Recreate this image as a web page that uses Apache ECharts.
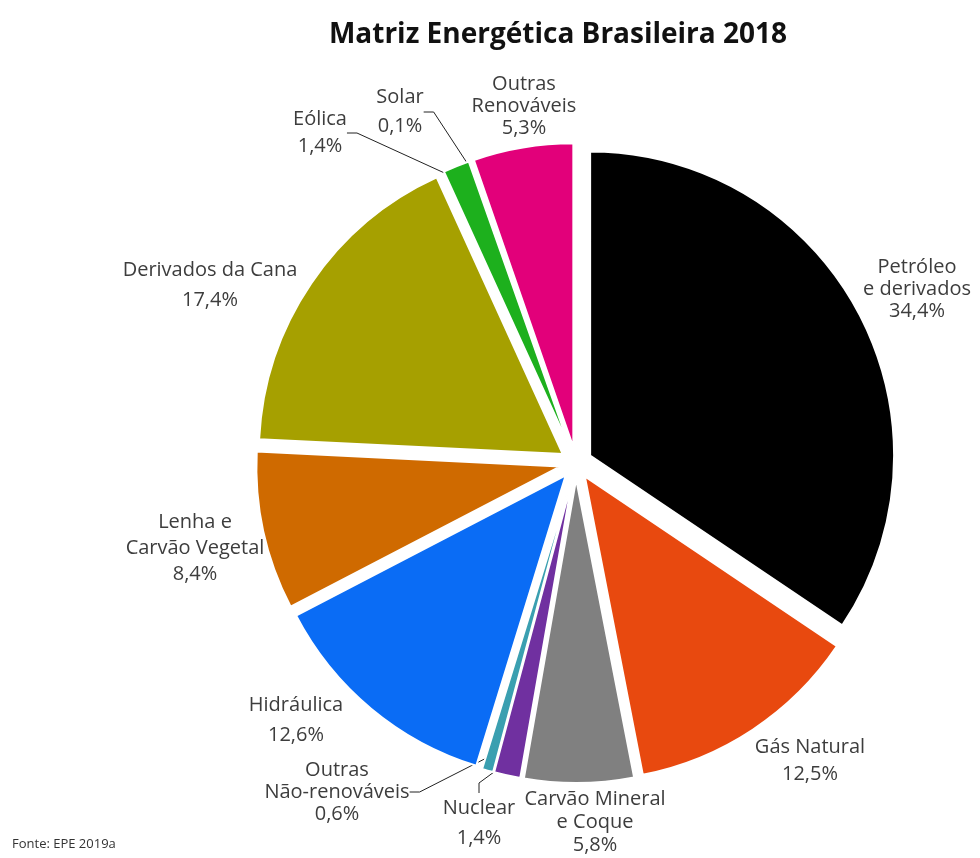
<!DOCTYPE html>
<html>
<head>
<meta charset="utf-8">
<script src="https://cdn.jsdelivr.net/npm/echarts@6/dist/echarts.min.js"></script>
<style>
  html, body { margin: 0; padding: 0; background: #ffffff; }
  #chart { width: 980px; height: 858px; }
</style>
</head>
<body>
<div id="chart"></div>
<script>
// Energy sources, clockwise from 12 o'clock
const fontes = [
  'Petróleo\ne derivados', 'Gás Natural', 'Carvão Mineral\ne Coque', 'Nuclear',
  'Outras\nNão-renováveis', 'Hidráulica', 'Lenha e\nCarvão Vegetal',
  'Derivados da Cana', 'Eólica', 'Solar', 'Outras\nRenováveis'
];
// Share of the 2018 energy supply (%)
const participacao = [34.4, 12.5, 5.8, 1.4, 0.6, 12.6, 8.4, 17.4, 1.4, 0.1, 5.3];
const cores = [
  '#000000', '#E8490F', '#808080', '#7030A0', '#3A9FB0', '#0A6CF5',
  '#CF6A00', '#A6A000', '#1DB01D', '#F5F56A', '#E2007A'
];
// Which labels are tied to their slice with a leader line
const comLinha = [false, false, false, true, true, false, false, false, true, true, false];

// Label placement: centre x, centre y, line height
const rotulos = [
  [917, 289, 22], [810, 761, 27], [595, 822, 23], [479, 823, 30],
  [337, 792, 22], [296, 720, 30], [195, 548, 26], [210, 285, 30],
  [320, 133, 27], [400, 112, 29], [524, 106, 22]
];

const fmt = v => v.toFixed(1).replace('.', ',') + '%';

const CENTRO = [576, 463];
const RAIO = 304;

const chart = echarts.init(document.getElementById('chart'), null, { renderer: 'canvas' });

chart.setOption({
  animation: false,
  backgroundColor: '#ffffff',
  title: {
    text: 'Matriz Energética Brasileira 2018',
    left: 553, top: 16, textAlign: 'center',
    textStyle: { fontFamily: 'Open Sans', fontWeight: 'bold', fontSize: 28, color: '#111111' }
  },
  graphic: [{
    type: 'text', left: 12, top: 838,
    style: { text: 'Fonte: EPE 2019a', font: '13px "Open Sans"', fill: '#333333' }
  }],
  series: [
    // Label layer: same slices, unexploded and invisible, carrying the texts and leader lines
    {
      type: 'pie',
      z: 1,
      silent: true,
      center: CENTRO,
      radius: [0, RAIO],
      startAngle: 90,
      clockwise: true,
      avoidLabelOverlap: false,
      itemStyle: { color: 'rgba(0,0,0,0)', borderWidth: 0 },
      label: {
        show: true,
        position: 'outside',
        fontFamily: 'Open Sans',
        fontSize: 20,
        color: '#3d3d3d',
        align: 'center',
        formatter: p => p.name + '\n' + fmt(p.value)
      },
      labelLine: { show: true, length: 10, length2: 10, lineStyle: { color: '#222222', width: 1 } },
      labelLayout: p => {
        const r = rotulos[p.dataIndex];
        return { x: r[0], y: r[1], align: 'center', verticalAlign: 'middle' };
      },
      data: fontes.map((nome, i) => ({
        name: nome,
        value: participacao[i],
        label: { lineHeight: rotulos[i][2] },
        labelLine: { show: comLinha[i] }
      }))
    },
    // Exploded slices
    {
      type: 'pie',
      z: 2,
      silent: true,
      center: CENTRO,
      radius: [0, RAIO],
      startAngle: 90,
      clockwise: true,
      selectedMode: 'multiple',
      selectedOffset: 16,
      emphasis: { disabled: true },
      itemStyle: { borderColor: '#ffffff', borderWidth: 2 },
      select: { itemStyle: { borderColor: '#ffffff', borderWidth: 2 } },
      label: { show: false },
      labelLine: { show: false },
      data: fontes.map((nome, i) => ({
        name: nome,
        value: participacao[i],
        selected: true,
        itemStyle: { color: cores[i] }
      }))
    }
  ]
});
</script>
</body>
</html>
